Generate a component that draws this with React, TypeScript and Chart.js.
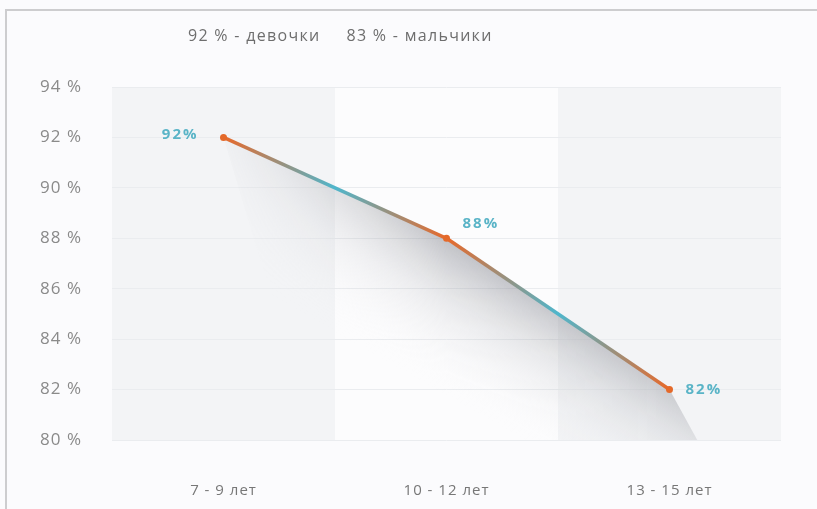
import { useEffect, useRef } from 'react';
import { Chart, registerables } from 'chart.js';

Chart.register(...registerables);

const categories = ['7 - 9 лет', '10 - 12 лет', '13 - 15 лет'];
const values = [92, 88, 82];
const valueLabels = ['92%', '88%', '82%'];
const yMin = 80;
const yMax = 94;
const yStep = 2;
const legendItems = ['92 % - девочки', '83 % - мальчики'];

const FONT = '"Open Sans", "Noto Sans", sans-serif';

const bandsPlugin = {
  id: 'bands',
  beforeLayout(chart: any) {
    chart.ctx.letterSpacing = '1px';
  },
  beforeDraw(chart: any) {
    const { ctx, chartArea, scales } = chart;
    ctx.letterSpacing = '1px';
    ctx.save();
    ctx.fillStyle = '#fbfbfd';
    ctx.fillRect(0, 0, chart.width, chart.height);
    ctx.fillStyle = '#cdcdcf';
    ctx.fillRect(5, 9, chart.width - 5, 2);
    ctx.fillRect(5, 9, 2, chart.height - 9);
    const x = scales.x;
    const half = (x.getPixelForValue(1) - x.getPixelForValue(0)) / 2;
    categories.forEach((_, i) => {
      const c = x.getPixelForValue(i);
      ctx.fillStyle = i % 2 === 0 ? '#f3f4f6' : '#fcfcfd';
      ctx.fillRect(c - half, chartArea.top, half * 2, chartArea.bottom - chartArea.top);
    });
    ctx.restore();
  },
};

const shadowPlugin = {
  id: 'shadow',
  beforeDatasetsDraw(chart: any) {
    const { ctx, chartArea } = chart;
    const pts = chart.getDatasetMeta(0).data.map((p: any) => ({ x: p.x, y: p.y }));
    if (pts.length < 3) return;
    const bottom = chartArea.bottom;
    const first = pts[0];
    const last = pts[pts.length - 1];
    const off = document.createElement('canvas');
    off.width = chart.width;
    off.height = chart.height;
    const o = off.getContext('2d') as CanvasRenderingContext2D;
    o.beginPath();
    o.moveTo(first.x, first.y);
    pts.slice(1).forEach((p: any) => o.lineTo(p.x, p.y));
    o.lineTo(last.x + (bottom - last.y) * 0.55, bottom);
    o.lineTo(first.x + (bottom - first.y) * 0.3, bottom);
    o.closePath();
    const dx = last.x - first.x;
    const dy = last.y - first.y;
    const len = Math.hypot(dx, dy);
    const nx = -dy / len;
    const ny = dx / len;
    const mx = (first.x + last.x) / 2;
    const my = (first.y + last.y) / 2;
    const dist = 115;
    const g = o.createLinearGradient(mx - nx * 20, my - ny * 20, mx + nx * dist, my + ny * dist);
    g.addColorStop(0, 'rgba(130,132,140,0.52)');
    g.addColorStop(0.4, 'rgba(170,172,178,0.24)');
    g.addColorStop(1, 'rgba(255,255,255,0)');
    o.fillStyle = g;
    o.fill();
    o.globalCompositeOperation = 'destination-in';
    const mid = pts[1];
    const g2 = o.createLinearGradient(first.x, 0, last.x, 0);
    const t = (mid.x - first.x) / (last.x - first.x);
    g2.addColorStop(0, 'rgba(0,0,0,0.08)');
    g2.addColorStop(t * 0.5, 'rgba(0,0,0,0.5)');
    g2.addColorStop(t, 'rgba(0,0,0,0.9)');
    g2.addColorStop(1, 'rgba(0,0,0,1)');
    o.fillStyle = g2;
    o.fillRect(0, 0, off.width, off.height);
    ctx.save();
    ctx.beginPath();
    ctx.rect(chartArea.left, chartArea.top, chartArea.right - chartArea.left, chartArea.bottom - chartArea.top);
    ctx.clip();
    ctx.drawImage(off, 0, 0);
    ctx.restore();
  },
};

const labelsPlugin = {
  id: 'valueLabels',
  afterDatasetsDraw(chart: any) {
    const { ctx } = chart;
    const meta = chart.getDatasetMeta(0);
    const place = [
      { align: 'right', dx: -25, dy: -3 },
      { align: 'left', dx: 16, dy: -15 },
      { align: 'left', dx: 16, dy: 0 },
    ];
    ctx.save();
    ctx.font = `bold 15px ${FONT}`;
    ctx.letterSpacing = '2px';
    ctx.fillStyle = '#5ab4c7';
    ctx.textBaseline = 'middle';
    meta.data.forEach((p: any, i: number) => {
      const pl = place[i];
      ctx.textAlign = pl.align;
      ctx.fillText(valueLabels[i], p.x + pl.dx, p.y + pl.dy);
    });
    ctx.restore();
  },
};

const legendPlugin = {
  id: 'topLegend',
  afterDraw(chart: any) {
    const { ctx, chartArea } = chart;
    ctx.save();
    ctx.font = `16px ${FONT}`;
    ctx.letterSpacing = '1.3px';
    ctx.fillStyle = '#6e6e6e';
    ctx.textBaseline = 'middle';
    ctx.textAlign = 'left';
    let x = chartArea.left + 76;
    legendItems.forEach((t) => {
      ctx.fillText(t, x, 36);
      x += ctx.measureText(t).width + 26;
    });
    ctx.restore();
  },
};

export default function App() {
  const ref = useRef<HTMLCanvasElement | null>(null);

  useEffect(() => {
    if (!ref.current) return;
    const chart = new Chart(ref.current, {
      type: 'line',
      data: {
        labels: categories,
        datasets: [
          {
            data: values,
            borderColor: '#e8722c',
            borderWidth: 3.5,
            tension: 0,
            fill: false,
            pointRadius: 3.5,
            pointBackgroundColor: '#e4692a',
            pointBorderWidth: 0,
            segment: {
              borderColor: (c: any) => {
                const cx = c.chart.ctx as CanvasRenderingContext2D;
                const g = cx.createLinearGradient(c.p0.x, c.p0.y, c.p1.x, c.p1.y);
                g.addColorStop(0, '#e8692a');
                g.addColorStop(0.5, '#4fb6cc');
                g.addColorStop(1, '#e8692a');
                return g;
              },
            },
          },
        ],
      },
      options: {
        responsive: false,
        maintainAspectRatio: false,
        animation: false,
        layout: { padding: { top: 87, right: 36, bottom: 7, left: 0 } },
        plugins: {
          legend: { display: false },
          tooltip: { enabled: false },
          title: { display: false },
        },
        scales: {
          x: {
            offset: true,
            afterFit: (s: any) => {
              s.height = 62;
            },
            grid: { display: false, drawTicks: false },
            border: { display: false },
            ticks: {
              padding: 42,
              maxRotation: 0,
              color: '#777777',
              font: { family: FONT, size: 15 },
            },
          },
          y: {
            min: yMin,
            max: yMax,
            afterFit: (s: any) => {
              s.width = 112;
            },
            grid: { color: '#eaecef', drawTicks: false },
            border: { display: false },
            ticks: {
              stepSize: yStep,
              padding: 30,
              color: '#8a8a8a',
              font: { family: FONT, size: 17 },
              callback: (v: any) => `${v} %`,
            },
          },
        },
      },
      plugins: [bandsPlugin, shadowPlugin, labelsPlugin, legendPlugin],
    });
    return () => chart.destroy();
  }, []);

  return (
    <div style={{ position: 'fixed', left: 0, top: 0, width: 817, height: 509, background: '#fbfbfd', overflow: 'hidden' }}>
      <canvas ref={ref} width={817} height={509} style={{ position: 'absolute', left: 0, top: 0, width: 817, height: 509 }} />
    </div>
  );
}
